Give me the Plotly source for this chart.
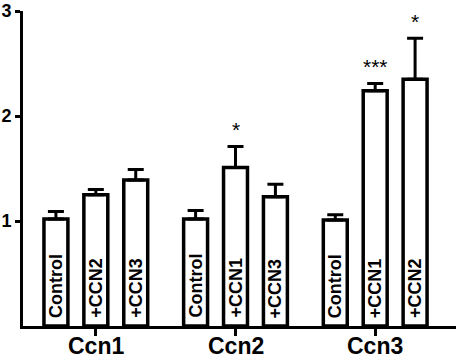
import plotly.graph_objects as go

groups = ["Ccn1", "Ccn2", "Ccn3"]
treatments = [
    ["Control", "+CCN2", "+CCN3"],
    ["Control", "+CCN1", "+CCN3"],
    ["Control", "+CCN1", "+CCN2"],
]
values = [
    [1.02, 1.25, 1.39],
    [1.02, 1.51, 1.23],
    [1.01, 2.24, 2.35],
]
errors = [
    [0.07, 0.05, 0.10],
    [0.08, 0.20, 0.12],
    [0.05, 0.07, 0.39],
]
stars = [
    ["", "", ""],
    ["", "*", ""],
    ["", "***", "*"],
]

GROUP_STEP = 3.5
FONT = "Liberation Sans, Arial, sans-serif"

xs, ys, es = [], [], []
annotations = []
for gi, g in enumerate(groups):
    for ti, t in enumerate(treatments[gi]):
        x = gi * GROUP_STEP + ti
        xs.append(x)
        ys.append(values[gi][ti])
        es.append(errors[gi][ti])
        annotations.append(dict(
            x=x, y=0, xref="x", yref="y", text="<b>" + t + "</b>",
            textangle=-90, showarrow=False, yanchor="bottom", xanchor="center",
            yshift=6, font=dict(family=FONT, size=18, color="black"),
        ))
        if stars[gi][ti]:
            annotations.append(dict(
                x=x, y=values[gi][ti] + errors[gi][ti], xref="x", yref="y",
                text=stars[gi][ti], showarrow=False, yanchor="bottom",
                yshift=3, font=dict(family=FONT, size=21, color="black"),
            ))
    annotations.append(dict(
        x=gi * GROUP_STEP + 1, y=0, xref="x", yref="paper",
        text="<b>" + g + "</b>", showarrow=False, yanchor="bottom",
        yshift=-35, font=dict(family=FONT, size=23, color="black"),
    ))

fig = go.Figure(go.Bar(
    x=xs, y=ys, width=0.6,
    marker=dict(color="white", line=dict(color="black", width=3.5)),
    error_y=dict(type="data", symmetric=False, array=es,
                 arrayminus=[0] * len(es), color="black", thickness=3, width=8),
    hoverinfo="skip",
))

tickvals = [gi * GROUP_STEP + 1 for gi in range(len(groups))]

fig.update_layout(
    width=456, height=361,
    margin=dict(l=23, r=0, t=11, b=35),
    plot_bgcolor="white", paper_bgcolor="white",
    showlegend=False,
    annotations=annotations,
    font=dict(family=FONT, color="black"),
    xaxis=dict(
        range=[-0.825, 10.025], showgrid=False, zeroline=False,
        showline=True, linecolor="black", linewidth=3, automargin=False,
        tickvals=tickvals, showticklabels=False,
        ticks="outside", ticklen=7, tickwidth=3, tickcolor="black",
    ),
    yaxis=dict(
        range=[0, 3], showgrid=False, zeroline=False,
        showline=True, linecolor="black", linewidth=3, automargin=False,
        tickvals=[1, 2, 3], ticktext=["<b>1</b>", "<b>2</b>", "<b>3</b>"],
        ticks="outside", ticklen=5, tickwidth=3, tickcolor="black",
        tickfont=dict(family=FONT, size=18, color="black"),
    ),
)

fig.write_html("out.html", config={"displayModeBar": False},
               post_script="document.body.style.margin='0';")
